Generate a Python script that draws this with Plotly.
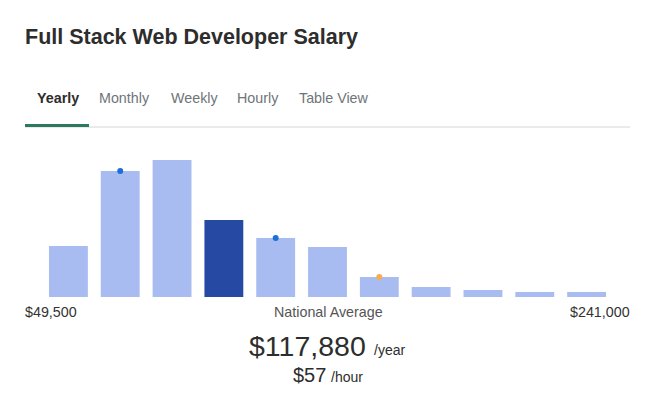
import plotly.graph_objects as go

W, H = 655, 399
OFF = 8  # page body margin

# Data
bin_index = list(range(1, 12))
bar_heights = [51, 126, 137, 77, 59, 50, 20, 10, 7, 5, 5]
highlight_bin = 4
marker_bins = [2, 5, 7]
marker_colors = ["#1a6fd9", "#1a6fd9", "#f7ad4f"]
tabs = ["Yearly", "Monthly", "Weekly", "Hourly", "Table View"]
tab_centers = [57.5, 124.5, 194, 258, 333.5]
min_label = "$49,500"
max_label = "$241,000"
avg_yearly = "$117,880"
avg_hourly = "$57"

LIGHT = "#a9bcf1"
DARK = "#2649a3"
FONT = "Liberation Sans, Arial, sans-serif"

def px(x):
    return (x - OFF) / W

def py(y):
    return 1 - (y - OFF) / H

colors = [DARK if i == highlight_bin else LIGHT for i in bin_index]

fig = go.Figure()
fig.add_trace(go.Bar(x=bin_index, y=bar_heights, marker=dict(color=colors, line=dict(width=0)),
                     width=0.75, hoverinfo="skip", showlegend=False))
fig.add_trace(go.Scatter(x=marker_bins, y=[bar_heights[i - 1] for i in marker_bins], mode="markers",
                         marker=dict(color=marker_colors, size=6), hoverinfo="skip", showlegend=False))

fig.update_layout(
    width=W, height=H, margin=dict(l=0, r=0, t=0, b=0),
    paper_bgcolor="white", plot_bgcolor="white",
    bargap=0.25,
    xaxis=dict(domain=[px(42.5), px(612.5)], range=[0.5, 11.5], visible=False, fixedrange=True),
    yaxis=dict(domain=[py(297), py(150)], range=[0, 147], visible=False, fixedrange=True),
    font=dict(family=FONT),
)

ann = []
ann.append(dict(x=px(23), y=py(37), text="<b>Full Stack Web Developer Salary</b>", xanchor="left", yanchor="middle",
                font=dict(size=21.5, color="#2d2d2d", family=FONT)))
for i, (t, c) in enumerate(zip(tabs, tab_centers)):
    ann.append(dict(x=px(c), y=py(98), text=f"<b>{t}</b>" if i == 0 else t, xanchor="center", yanchor="middle",
                    font=dict(size=14.3, color="#2d2d2d" if i == 0 else "#6f7479", family=FONT)))
ann.append(dict(x=px(23), y=py(312), text=min_label, xanchor="left", yanchor="middle",
                font=dict(size=14.3, color="#333", family=FONT)))
ann.append(dict(x=px(328), y=py(312), text="National Average", xanchor="center", yanchor="middle",
                font=dict(size=14.3, color="#555", family=FONT)))
ann.append(dict(x=px(632), y=py(312), text=max_label, xanchor="right", yanchor="middle",
                font=dict(size=14.3, color="#333", family=FONT)))
ann.append(dict(x=px(368), y=py(346), text=avg_yearly, xanchor="right", yanchor="middle",
                font=dict(size=28.5, color="#2d2d2d", family=FONT)))
ann.append(dict(x=px(372), y=py(350), text="/year", xanchor="left", yanchor="middle",
                font=dict(size=14, color="#2d2d2d", family=FONT)))
ann.append(dict(x=px(328), y=py(375), text=avg_hourly, xanchor="right", yanchor="middle",
                font=dict(size=20, color="#2d2d2d", family=FONT)))
ann.append(dict(x=px(329), y=py(377), text="/hour", xanchor="left", yanchor="middle",
                font=dict(size=14, color="#2d2d2d", family=FONT)))
for a in ann:
    a.update(xref="paper", yref="paper", showarrow=False)
fig.update_layout(annotations=ann)

shapes = [
    dict(type="line", xref="paper", yref="paper", x0=px(25), x1=px(630), y0=py(127), y1=py(127),
         line=dict(color="#d6d6d6", width=1)),
    dict(type="rect", xref="paper", yref="paper", x0=px(25), x1=px(89), y0=py(127), y1=py(124),
         fillcolor="#2a7a5e", line=dict(width=0)),
]
fig.update_layout(shapes=shapes)

fig.write_html("out.html", config={"displayModeBar": False})
